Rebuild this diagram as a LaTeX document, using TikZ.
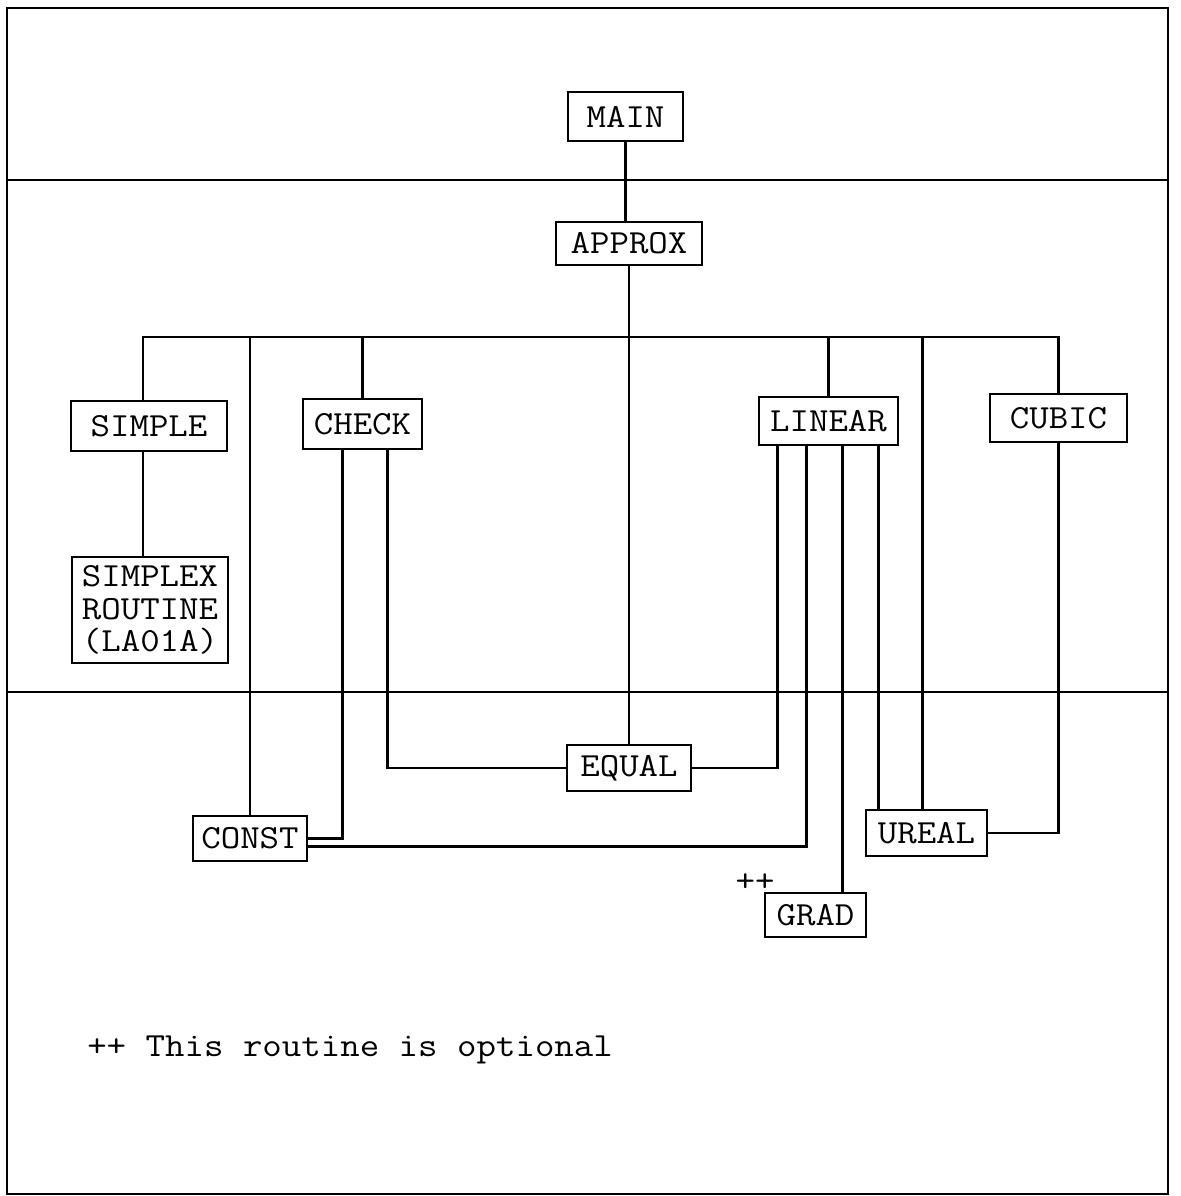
\documentclass[tikz,border=0pt]{standalone}
\usepackage{fontspec}
\usetikzlibrary{positioning}
\newfontfamily\typefont{Latin Modern Mono}[FakeStretch=1.12]
\newcommand\typer{\typefont\fontsize{24}{23}\selectfont}

\begin{document}
\begin{tikzpicture}[
  x=0.025cm,y=-0.025cm,
  box/.style={draw,line width=1.6pt,fill=white,font=\typer,
    minimum height=1.15cm,inner xsep=0pt,inner ysep=0pt,align=center},
  wire/.style={line width=1.5pt},
  txt/.style={font=\typer,inner sep=0pt}
]
\useasboundingbox (0,0) rectangle (1181,1196);
% frame and level lines
\draw[line width=2pt] (7,8) rectangle (1168,1194);
\draw[line width=1.2pt] (7,180) -- (1168,180);
\draw[line width=1.2pt] (7,692) -- (1168,692);

\coordinate (bus) at (0,337);

\node[box,minimum width=2.875cm,minimum height=1.225cm] (main) at (625.5,116.5) {MAIN};
\node[box,minimum width=3.65cm,minimum height=1.075cm] (approx) at (629,243.5) {APPROX};
\node[box,minimum width=3.9cm,minimum height=1.25cm] (simple) at (149,426) {SIMPLE};
\node[box,minimum width=2.975cm,minimum height=1.25cm] (check) at (362.5,424) {CHECK};
\node[box,minimum width=3.475cm,minimum height=1.2cm] (linear) at (828.5,421) {LINEAR};
\node[box,minimum width=3.425cm,minimum height=1.2cm] (cubic) at (1058.5,418) {CUBIC};
\node[box,minimum width=3.9cm,minimum height=2.65cm] (simplex) at (150,610) {SIMPLEX\\ROUTINE\\(LA01A)};
\node[box,minimum width=3.1cm] (equal) at (629,768) {EQUAL};
\node[box,minimum width=2.85cm,minimum height=1.125cm] (const) at (250,838.5) {CONST};
\node[box,minimum width=3.025cm] (ureal) at (926.5,833) {UREAL};
\node[box,minimum width=2.525cm,minimum height=1.1cm] (grad) at (815.5,915) {GRAD};
\node[txt] (plus) at (755,883) {++};
\node[txt,anchor=west] (note) at (87,1050) {++ This routine is optional};

% calling lines
\draw[wire] (main.south) -- (main.south |- approx.north);
\draw[wire] (approx) -- (equal);
\draw[wire] ([xshift=-0.15cm]simple.north) -- ([xshift=-0.15cm]simple.north |- bus)
  -- (cubic.north |- bus) -- (cubic.north);
\draw[wire] (check.north) -- (check.north |- bus);
\draw[wire] (linear.north) -- (linear.north |- bus);
\draw[wire] (const.north) -- (const.north |- bus);
\draw[wire] ([xshift=-0.1cm]ureal.north) -- ([xshift=-0.1cm]ureal.north |- bus);
\draw[wire] ([xshift=-0.15cm]simple.south) -- ([xshift=-0.15cm]simple.south |- simplex.north);
\draw[wire] ([xshift=-0.5cm]check.south) |- (const.east);
\draw[wire] ([xshift=0.625cm]check.south) |- (equal.west);
\draw[wire] ([xshift=-1.275cm]linear.south) |- (equal.east);
\draw[wire] ([xshift=-0.55cm]linear.south) |- ([yshift=-0.2cm]const.east);
\draw[wire] ([xshift=0.35cm]linear.south) -- ([xshift=0.35cm]linear.south |- grad.north);
\draw[wire] ([xshift=1.25cm]linear.south) -- ([xshift=1.25cm]linear.south |- ureal.north);
\draw[wire] (cubic.south) |- (ureal.east);
\end{tikzpicture}
\end{document}
